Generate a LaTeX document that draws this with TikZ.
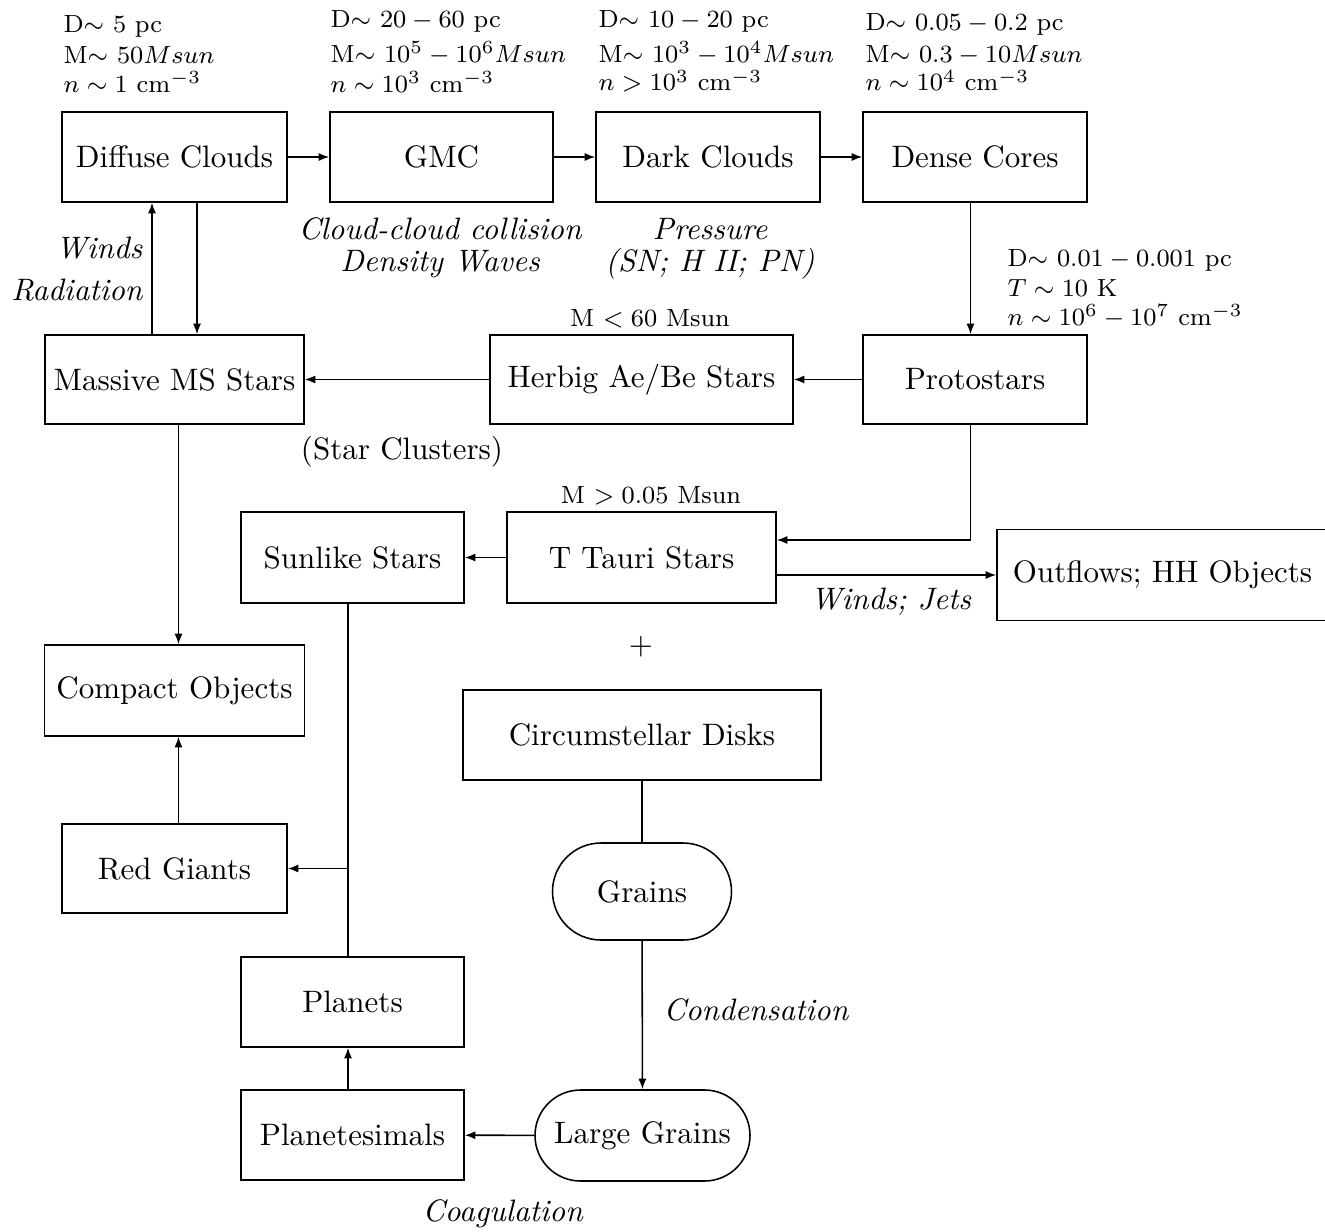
\documentclass[tikz,border=0pt]{standalone}
\usetikzlibrary{arrows.meta,shapes.misc}
\def\pxu{0.3226pt}
\tikzset{
  bx/.style 2 args={draw, line width=0.5pt, minimum width=#1*\pxu, minimum height=#2*\pxu, inner sep=0pt, font=\normalsize},
  rbx/.style 2 args={draw, rounded rectangle, line width=0.5pt, minimum width=#1*\pxu, minimum height=#2*\pxu, inner sep=0pt, font=\normalsize},
  arr/.style={line width=0.5pt, -{Latex[length=3.4pt,width=2.6pt]}},
  ln/.style={line width=0.5pt},
  sm/.style={font=\footnotesize, inner sep=0pt, anchor=base west},
  smc/.style={font=\footnotesize, inner sep=0pt, anchor=base},
  lab/.style={font=\itshape, inner sep=0pt, anchor=base},
}
\begin{document}
\begin{tikzpicture}[x=0.3226pt, y=-0.3226pt]
\fill[white] (0,0) rectangle (1325,1232);
\useasboundingbox (0,0) rectangle (1325,1232);

% boxes
\node[bx={225}{90}] (dif) at (174.5,157) {Diffuse Clouds};
\node[bx={223}{90}] (gmc) at (441.5,157) {GMC};
\node[bx={224}{90}] (dark) at (708,157) {Dark Clouds};
\node[bx={224}{90}] (dense) at (975,157) {Dense Cores};
\node[bx={259}{89}] (mass) at (174.5,379.5) {Massive MS Stars};
\node[bx={303}{89}] (herb) at (641.5,379.5) {Herbig Ae/Be Stars};
\node[bx={224}{89}] (proto) at (975,379.5) {Protostars};
\node[bx={223}{91}] (sun) at (352.5,557.5) {Sunlike Stars};
\node[bx={269}{91}] (tt) at (641.5,557.5) {T Tauri Stars};
\node[bx={331}{91}] (out) at (1162.5,575) {Outflows; HH Objects};
\node[bx={260}{91}] (comp) at (174.5,690.5) {Compact Objects};
\node[bx={358}{90}] (circ) at (642,735) {Circumstellar Disks};
\node[bx={225}{89}] (red) at (174.5,868.5) {Red Giants};
\node[rbx={179}{97}] (grains) at (642,891.5) {Grains};
\node[bx={223}{90}] (planets) at (352.5,1002) {Planets};
\node[rbx={215}{91}] (large) at (642.5,1135.5) {Large Grains};
\node[bx={223}{90}] (plan) at (352.5,1135) {Planetesimals};

% top data labels
\node[sm] (a1) at (63,33) {D$\sim$ 5 pc};
\node[sm] (a2) at (63,63) {M$\sim$ $50Msun$};
\node[sm] (a3) at (63,92) {$n\sim1$ cm$^{-3}$};
\node[sm] (b1) at (330,28) {D$\sim$ $20-60$ pc};
\node[sm] (b2) at (330,62) {M$\sim$ $10^5-10^6Msun$};
\node[sm] (b3) at (330,92) {$n\sim10^3$ cm$^{-3}$};
\node[sm] (c1) at (598,27) {D$\sim$ $10-20$ pc};
\node[sm] (c2) at (598,62) {M$\sim$ $10^3-10^4Msun$};
\node[sm] (c3) at (598,91) {$n>10^3$ cm$^{-3}$};
\node[sm] (e1) at (865,31) {D$\sim$ $0.05-0.2$ pc};
\node[sm] (e2) at (865,62) {M$\sim$ $0.3-10Msun$};
\node[sm] (e3) at (865,91) {$n\sim10^4$ cm$^{-3}$};
\node[sm] (p1) at (1007,266) {D$\sim$ $0.01-0.001$ pc};
\node[sm] (p2) at (1007,296) {$T\sim10$ K};
\node[sm] (p3) at (1007,325) {$n\sim10^6-10^7$ cm$^{-3}$};
\node[smc] (mh) at (650,326) {M $<60$ Msun};
\node[smc] (mt) at (651,503) {M $>0.05$ Msun};

% italic labels
\node[lab] (l1) at (440,239) {Cloud-cloud collision};
\node[lab] (l2) at (440,271) {Density Waves};
\node[lab] (l3) at (710,239) {Pressure};
\node[lab] (l4) at (710,271) {(SN; H II; PN)};
\node[lab, anchor=base east] (lw) at (143,258) {Winds};
\node[lab, anchor=base east] (lr) at (143,300) {Radiation};
\node[font=\normalsize, anchor=base, inner sep=0pt] (sc) at (402,459) {(Star Clusters)};
\node[lab, anchor=base west] (wj) at (810,609) {Winds; Jets};
\node[lab, anchor=base west] (cond) at (663,1020) {Condensation};
\node[lab, anchor=base west] (coag) at (422,1221) {Coagulation};
\node[inner sep=0pt] (plus) at (641,647) {$+$};

% connectors
\draw[arr] (dif) -- (gmc);
\draw[arr] (gmc) -- (dark);
\draw[arr] (dark) -- (dense);
\draw[arr] ([xshift=-4.5*\pxu]dense.south) -- ([xshift=-4.5*\pxu]proto.north);
\draw[arr] (proto) -- (herb);
\draw[arr] (herb) -- (mass);
\draw[arr] ([xshift=22.5*\pxu]dif.south) -- ([xshift=22.5*\pxu]mass.north);
\draw[arr] ([xshift=-22.5*\pxu]mass.north) -- ([xshift=-22.5*\pxu]dif.south);
\draw[arr] ([xshift=4*\pxu]mass.south) -- ([xshift=4*\pxu]comp.north);
\draw[arr] ([xshift=4*\pxu]red.north) -- ([xshift=4*\pxu]comp.south);
\draw[arr] ([xshift=-4.5*\pxu]proto.south) |- ([yshift=17.5*\pxu]tt.east);
\draw[arr] (tt) -- (sun);
\draw[arr] ([yshift=-17.5*\pxu]tt.east) -- (out.west);
\coordinate (br) at (348,868.5);
\draw[ln] ([xshift=-4.5*\pxu]sun.south) -- ([xshift=-4.5*\pxu]planets.north);
\draw[arr] (br) -- (red.east);
\draw[arr] ([xshift=-4.5*\pxu]plan.north) -- ([xshift=-4.5*\pxu]planets.south);
\draw[ln] (circ) -- (grains);
\draw[arr] (grains) -- (large);
\draw[arr] (large) -- (plan);
\end{tikzpicture}
\end{document}
